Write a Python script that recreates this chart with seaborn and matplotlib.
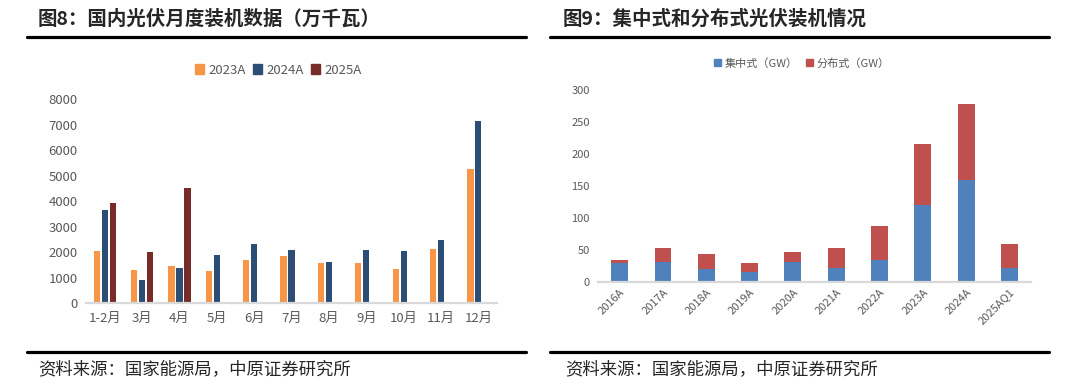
import pandas as pd
import numpy as np
import seaborn as sns
import matplotlib.pyplot as plt
from matplotlib.lines import Line2D
from matplotlib.patches import Patch

sns.set_style('white')
plt.rcParams['font.family'] = ['Noto Sans CJK SC', 'DejaVu Sans']

# monthly PV installations (10k kW)
months = ['1-2月', '3月', '4月', '5月', '6月', '7月', '8月', '9月', '10月', '11月', '12月']
y2023 = [2037, 1300, 1450, 1260, 1700, 1850, 1570, 1570, 1340, 2130, 5250]
y2024 = [3672, 902, 1400, 1890, 2330, 2100, 1610, 2090, 2050, 2490, 7130]
y2025 = [3947, 2024, 4522]
years = ['2023A', '2024A', '2025A']
year_colors = ['#F79646', '#2C4D75', '#772C2A']

# centralized vs distributed (GW)
periods = ['2016A', '2017A', '2018A', '2019A', '2020A', '2021A', '2022A', '2023A', '2024A', '2025AQ1']
centralized = [29.5, 31.5, 20.5, 16, 31.5, 22.5, 35, 120, 159, 22.5]
distributed = [4.5, 21, 22.5, 13, 15, 30.5, 52, 95, 118.5, 36.5]

grey = '#595959'

rows = []
for yr, vals in zip(years, [y2023, y2024, y2025]):
    for m, v in zip(months, vals):
        rows.append({'month': m, 'year': yr, 'value': v})
monthly_df = pd.DataFrame(rows)

mix_df = pd.DataFrame({'period': periods, 'centralized': centralized,
                       'distributed': distributed})
mix_df['total'] = mix_df['centralized'] + mix_df['distributed']

fig = plt.figure(figsize=(10.74, 3.89), dpi=100)

# ---- left chart
ax1 = fig.add_axes([0.0801, 0.2203, 0.3827, 0.5244])
sns.barplot(data=monthly_df, x='month', y='value', hue='year', order=months,
            hue_order=years, palette=year_colors, width=0.64, gap=0.22,
            saturation=1, legend=False, linewidth=0, ax=ax1)
ax1.set_ylim(0, 8000)
ax1.set_xlim(-0.5, len(months) - 0.5)
ax1.set_yticks(np.arange(0, 8001, 1000))
ax1.set_xlabel('')
ax1.set_ylabel('')
for s in ['top', 'right', 'left']:
    ax1.spines[s].set_visible(False)
ax1.spines['bottom'].set_color('#D9D9D9')
ax1.spines['bottom'].set_linewidth(1.6)
ax1.tick_params(axis='both', length=0, colors=grey, labelsize=9.5)
ax1.tick_params(axis='y', pad=6)
ax1.tick_params(axis='x', pad=6)

handles1 = [Patch(color=c, label=y) for c, y in zip(year_colors, years)]
fig.legend(handles=handles1, loc='center', bbox_to_anchor=(0.2593, 0.820),
           ncol=3, frameon=False, fontsize=9.5, handlelength=0.7,
           handleheight=0.7, handletextpad=0.35, columnspacing=0.5,
           labelcolor=grey)

# ---- right chart
ax2 = fig.add_axes([0.5568, 0.2751, 0.4032, 0.4943])
sns.barplot(data=mix_df, x='period', y='total', color='#C0504D', width=0.39,
            saturation=1, linewidth=0, ax=ax2)
sns.barplot(data=mix_df, x='period', y='centralized', color='#4F81BD', width=0.39,
            saturation=1, linewidth=0, ax=ax2)
ax2.set_ylim(0, 300)
ax2.set_xlim(-0.5, len(periods) - 0.5)
ax2.set_yticks(np.arange(0, 301, 50))
ax2.set_xlabel('')
ax2.set_ylabel('')
for s in ['top', 'right', 'left']:
    ax2.spines[s].set_visible(False)
ax2.spines['bottom'].set_color('#D9D9D9')
ax2.spines['bottom'].set_linewidth(1.6)
ax2.tick_params(axis='both', length=0, colors=grey, labelsize=8)
ax2.tick_params(axis='y', pad=6)
plt.setp(ax2.get_xticklabels(), rotation=45, ha='right', rotation_mode='anchor')

handles2 = [Patch(color='#4F81BD', label='集中式（GW）'),
            Patch(color='#C0504D', label='分布式（GW）')]
fig.legend(handles=handles2, loc='center', bbox_to_anchor=(0.7467, 0.837),
           ncol=2, frameon=False, fontsize=8, handlelength=0.6,
           handleheight=0.6, handletextpad=0.3, columnspacing=0.8,
           labelcolor=grey)

# ---- titles, rules and sources
fig.text(0.0354, 0.951, '图8：国内光伏月度装机数据（万千瓦）', fontsize=14,
         fontweight='bold', va='center', ha='left')
fig.text(0.524, 0.951, '图9：集中式和分布式光伏装机情况', fontsize=14,
         fontweight='bold', va='center', ha='left')
for x0, x1 in [(0.0251, 0.490), (0.512, 0.977)]:
    fig.add_artist(Line2D([x0, x1], [1 - 37 / 389] * 2, color='black', lw=2.3,
                          transform=fig.transFigure))
    fig.add_artist(Line2D([x0, x1], [1 - 352 / 389] * 2, color='black', lw=2.3,
                          transform=fig.transFigure))
fig.text(0.0354, 0.0514, '资料来源：国家能源局，中原证券研究所', fontsize=12.5,
         va='center', ha='left')
fig.text(0.526, 0.0514, '资料来源：国家能源局，中原证券研究所', fontsize=12.5,
         va='center', ha='left')

plt.savefig('out.png', dpi=100)
